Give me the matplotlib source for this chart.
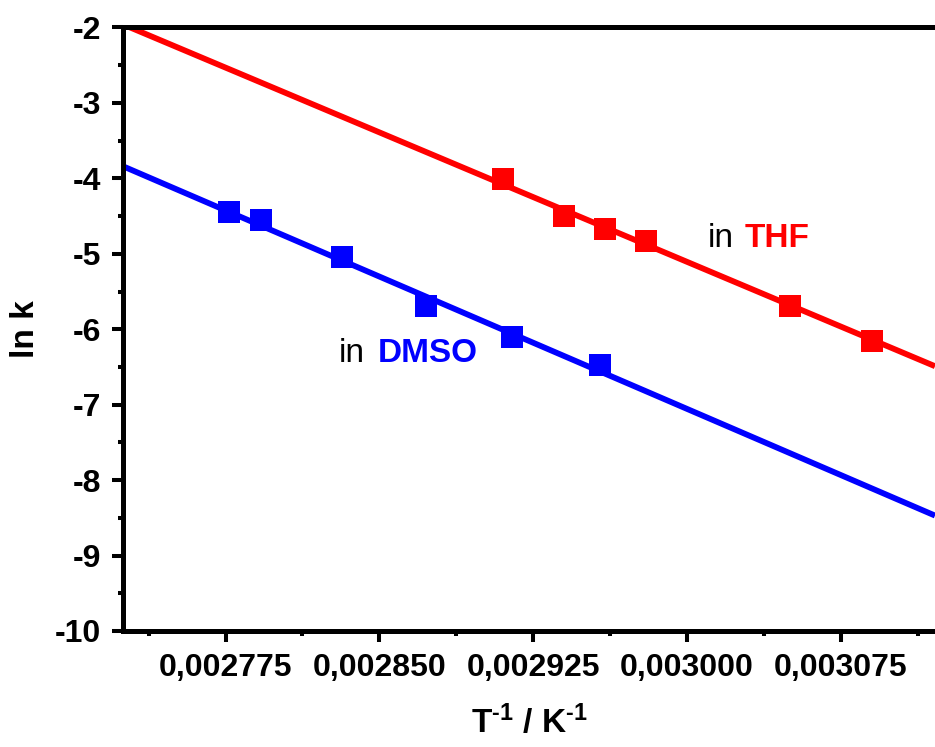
import numpy as np
import matplotlib
matplotlib.use('Agg')
import matplotlib.pyplot as plt
from matplotlib.ticker import MultipleLocator, FuncFormatter

plt.rcParams['font.family'] = ['Liberation Sans', 'DejaVu Sans']
plt.rcParams['axes.unicode_minus'] = False
plt.rcParams['mathtext.fontset'] = 'custom'
plt.rcParams['mathtext.rm'] = 'Liberation Sans:bold'
plt.rcParams['mathtext.bf'] = 'Liberation Sans:bold'
plt.rcParams['mathtext.default'] = 'bf'

# data (1/T in K^-1, ln k)
thf_x = [0.0029104, 0.0029402, 0.0029602, 0.0029802, 0.0030505, 0.0030905]
thf_y = [-4.01, -4.50, -4.67, -4.83, -5.69, -6.15]
dmso_x = [0.0027767, 0.0027923, 0.0028319, 0.0028729, 0.0029148, 0.0029578]
dmso_y = [-4.44, -4.55, -5.04, -5.69, -6.10, -6.47]

# linear fits as drawn (ends of the lines)
fit_x = [0.002725, 0.003121]
thf_fit = [-1.96, -6.49]
dmso_fit = [-3.84, -8.47]

fig = plt.figure(figsize=(9.35, 7.47), dpi=100)
ax = fig.add_axes([0.1316, 0.1553, 0.8684, 0.8079])

ax.plot(fit_x, thf_fit, color='#ff0000', lw=4.2, solid_capstyle='butt')
ax.plot(fit_x, dmso_fit, color='#0000ff', lw=4.2, solid_capstyle='butt')
ax.plot(thf_x, thf_y, 's', color='#ff0000', ms=15.5, mew=0)
ax.plot(dmso_x, dmso_y, 's', color='#0000ff', ms=15.5, mew=0)

ax.set_xlim(fit_x[0], fit_x[1])
ax.set_ylim(-10, -2)

# labels for the two series
ax.text(0.0030100, -4.907, 'in', fontsize=24, color='black')
ax.text(0.0030281, -4.907, 'THF', fontsize=24, color='#ff0000', fontweight='bold')
ax.text(0.0028304, -6.44, 'in', fontsize=24, color='black')
ax.text(0.0028490, -6.44, 'DMSO', fontsize=24, color='#0000ff', fontweight='bold')

ax.xaxis.set_major_locator(MultipleLocator(0.000075))
ax.xaxis.set_minor_locator(MultipleLocator(0.0000375))
ax.xaxis.set_major_formatter(FuncFormatter(lambda v, p: f"{v:.6f}".replace('.', ',')))
ax.yaxis.set_major_locator(MultipleLocator(1))
ax.yaxis.set_minor_locator(MultipleLocator(0.5))
ax.yaxis.set_major_formatter(FuncFormatter(lambda v, p: f"{v:.0f}"))

ax.tick_params(which='major', direction='out', length=7.7, width=2.9, labelsize=23, pad=8)
ax.tick_params(which='minor', direction='out', length=3.8, width=2.9)
for lab in ax.get_xticklabels() + ax.get_yticklabels():
    lab.set_fontweight('bold')

for side in ['left', 'bottom', 'top']:
    ax.spines[side].set_linewidth(3.6)
ax.spines['right'].set_visible(False)

ax.set_xlabel('T$^{\\text{-}1}$ / K$^{\\text{-}1}$', fontsize=24, fontweight='bold', labelpad=16)
ax.set_ylabel('ln k', fontsize=24, fontweight='bold', labelpad=10)

fig.savefig('out.png', dpi=100)
